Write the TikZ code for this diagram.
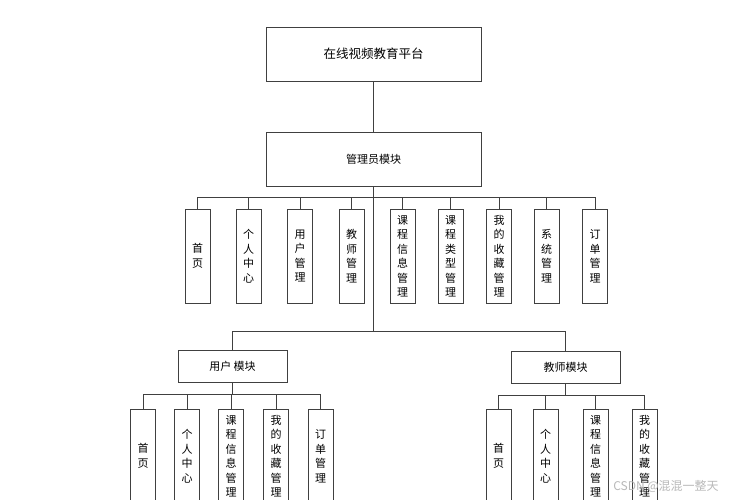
\documentclass[tikz,border=0pt]{standalone}
\usepackage{fontspec}
\setmainfont{Noto Sans CJK SC}
\definecolor{linec}{HTML}{404040}
\begin{document}
\begin{tikzpicture}[x=1pt,y=-1pt,
  box/.style={draw=linec, line width=0.9pt, fill=white, inner sep=0pt, align=center},
  bigbox/.style={box, minimum width=215pt, minimum height=54pt},
  modbox/.style={box, minimum width=109pt, minimum height=32pt, font=\fontsize{11}{13}\selectfont},
  vbox/.style={box, minimum width=25pt, minimum height=94pt, font=\fontsize{11}{14.5}\selectfont},
  conn/.style={draw=linec, line width=0.9pt}]
\useasboundingbox (0,0) rectangle (735,499);
\clip (0,0) rectangle (735,499);
\fill[white] (0,0) rectangle (735,499);
% top levels
\node[bigbox, font=\fontsize{12.5}{14}\selectfont] (top) at (373.5,54) {在线视频教育平台};
\node[bigbox, font=\fontsize{11}{13}\selectfont] (admin) at (373.5,159.5) {管理员模块};
\draw[conn] (top.south) -- (admin.north);
% admin children
\coordinate (abus) at (373.5,197);
\node[vbox] (a1) at (197.5,256) {首\\页};
\node[vbox] (a2) at (248.5,256) {个\\人\\中\\心};
\node[vbox] (a3) at (300,256) {用\\户\\管\\理};
\node[vbox] (a4) at (351.5,256) {教\\师\\管\\理};
\node[vbox] (a5) at (402.5,256) {课\\程\\信\\息\\管\\理};
\node[vbox] (a6) at (450.5,256) {课\\程\\类\\型\\管\\理};
\node[vbox] (a7) at (499,256) {我\\的\\收\\藏\\管\\理};
\node[vbox] (a8) at (546.5,256) {系\\统\\管\\理};
\node[vbox] (a9) at (595,256) {订\\单\\管\\理};
\draw[conn] (a1.north |- abus) -- (a9.north |- abus);
\foreach \n in {a1,a2,a3,a4,a5,a6,a7,a8,a9}{
  \draw[conn] (\n.north |- abus) -- (\n.north);
}
% modules
\coordinate (hub) at (373.5,331);
\node[modbox] (um) at (232.5,366) {用户 模块};
\node[modbox] (tm) at (565.5,367) {教师模块};
\draw[conn] (admin.south) -- (hub);
\draw[conn] (um.north) |- (hub) -| (tm.north);
% user children
\coordinate (ubus) at (232.5,394);
\node[vbox] (u1) at (143,456) {首\\页};
\node[vbox] (u2) at (187,456) {个\\人\\中\\心};
\node[vbox] (u3) at (231,456) {课\\程\\信\\息\\管\\理};
\node[vbox] (u4) at (276,456) {我\\的\\收\\藏\\管\\理};
\node[vbox] (u5) at (320.5,456) {订\\单\\管\\理};
\draw[conn] (um.south) -- (ubus);
\draw[conn] (u1.north |- ubus) -- (u5.north |- ubus);
\foreach \n in {u1,u2,u3,u4,u5}{
  \draw[conn] (\n.north |- ubus) -- (\n.north);
}
% teacher children
\coordinate (tbus) at (565.5,395);
\node[vbox] (t1) at (498.5,456) {首\\页};
\node[vbox] (t2) at (545.5,456) {个\\人\\中\\心};
\node[vbox] (t3) at (595.5,456) {课\\程\\信\\息\\管\\理};
\node[vbox] (t4) at (644.5,456) {我\\的\\收\\藏\\管\\理};
\draw[conn] (tm.south) -- (tbus);
\draw[conn] (t1.north |- tbus) -- (t4.north |- tbus);
\foreach \n in {t1,t2,t3,t4}{
  \draw[conn] (\n.north |- tbus) -- (\n.north);
}
% watermark
\node[text=gray!55, font=\fontsize{12}{14}\selectfont, inner sep=0pt] (wm) at (666,486) {CSDN @混混一整天};
\end{tikzpicture}
\end{document}
